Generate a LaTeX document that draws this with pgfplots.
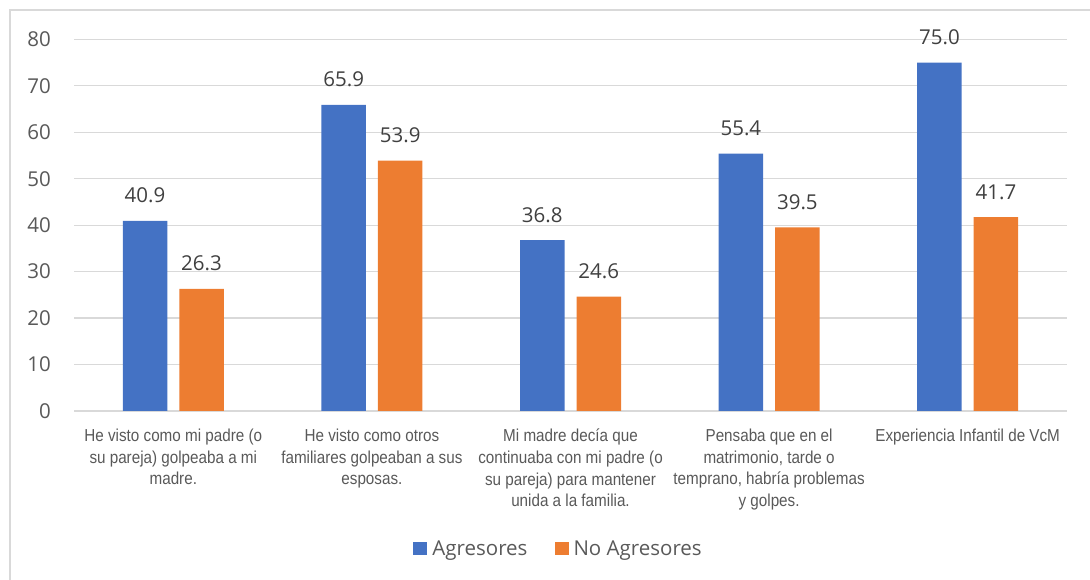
\documentclass[border=0pt]{standalone}
\usepackage{fontspec}
\setmainfont{Open Sans}
\newfontfamily\catfont[FakeStretch=0.88]{Liberation Sans}
\usepackage{pgfplots}
\pgfplotsset{compat=1.18}
\definecolor{cblue}{HTML}{4472C4}
\definecolor{corange}{HTML}{ED7D31}
\definecolor{tgray}{HTML}{595959}
\definecolor{lgray}{HTML}{D9D9D9}
\definecolor{dgray}{HTML}{404040}
\begin{document}
\begin{tikzpicture}[x=1bp,y=1bp]
\useasboundingbox (0,0) rectangle (1090,580);
\draw[lgray, line width=1.2bp] (10,-10) -- (10,570) -- (1100,570);
\begin{axis}[
  at={(74bp,169bp)}, anchor=south west,
  scale only axis, width=993bp, height=371.7bp,
  ybar=12bp, bar width=44.5bp,
  xmin=-0.5, xmax=4.5, ymin=0, ymax=80,
  ytick={0,10,...,80},
  xtick={0,1,2,3,4},
  xticklabels={
    {He visto como mi padre (o\\su pareja) golpeaba a mi\\madre.},
    {He visto como otros\\familiares golpeaban a sus\\esposas.},
    {Mi madre decía que\\continuaba con mi padre (o\\su pareja) para mantener\\unida a la familia.},
    {Pensaba que en el\\matrimonio, tarde o\\temprano, habría problemas\\y golpes.},
    {Experiencia Infantil de VcM}},
  x tick label style={font=\catfont\fontsize{17.3bp}{21.6bp}\selectfont, text=tgray,
    align=center, anchor=north, inner sep=0pt, yshift=-18bp},
  y tick label style={font=\fontsize{20.5bp}{24bp}\selectfont, text=tgray,
    anchor=east, inner sep=0pt, xshift=-23bp},
  /pgf/number format/assume math mode=true,
  major tick length=0pt,
  axis lines=left,
  y axis line style={draw=none},
  x axis line style={draw=lgray, line width=1.2bp, -},
  ymajorgrids, grid style={draw=lgray, line width=1.2bp},
  nodes near coords,
  nodes near coords style={/pgf/number format/fixed, /pgf/number format/fixed zerofill,
    /pgf/number format/precision=1, /pgf/number format/assume math mode=true},
  every node near coord/.append style={font=\fontsize{20.5bp}{24bp}\selectfont, text=dgray,
    anchor=base, inner sep=0pt, yshift=18bp},
  legend image code/.code={\fill[#1,draw=none] (0bp,-6.5bp) rectangle (14bp,6.5bp); \path (19bp,0bp);},
  legend style={draw=none, fill=none, at={(0.487,-0.371)}, anchor=center,
    legend columns=2, font=\fontsize{20.5bp}{24bp}\selectfont, text=tgray,
    nodes={inner sep=0pt},
    /tikz/every even column/.append style={column sep=27bp}},
  legend cell align=left,
  clip=false,
]
\addplot[fill=cblue, draw=none] coordinates {(0,40.9) (1,65.9) (2,36.8) (3,55.4) (4,75.0)};
\addplot[fill=corange, draw=none] coordinates {(0,26.3) (1,53.9) (2,24.6) (3,39.5) (4,41.7)};
\legend{Agresores, No Agresores}
\end{axis}
\end{tikzpicture}
\end{document}
